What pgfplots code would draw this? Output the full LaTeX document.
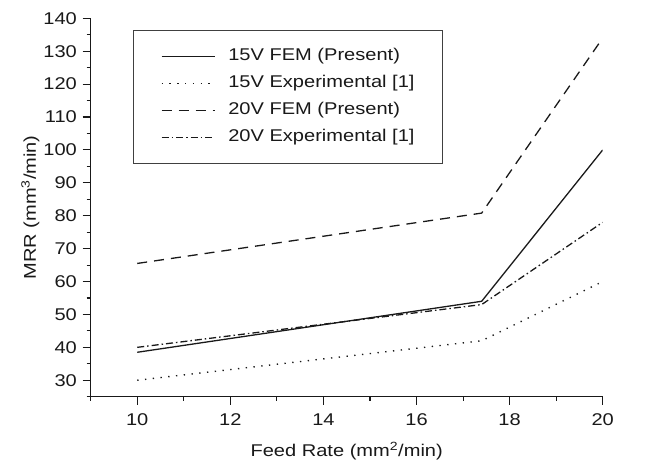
\documentclass[border=0pt]{standalone}
\usepackage{fontspec}
\setmainfont{Liberation Sans}[FakeStretch=1.18]
\usepackage{pgfplots}
\pgfplotsset{compat=1.18}
\newcommand{\chartfont}{\fontsize{17bp}{20bp}\selectfont}
\begin{document}
\chartfont
\begin{tikzpicture}
\useasboundingbox (-90.7bp,-68.3bp) rectangle (558.3bp,396.7bp);
\begin{axis}[
  at={(0,0)}, anchor=south west,
  scale only axis, width=512bp, height=378.4bp,
  xmin=9, xmax=20, ymin=25, ymax=140,
  axis x line*=bottom, axis y line*=left,
  axis line style={line width=1.1pt, black!90, -},
  xtick={10,12,...,20}, minor xtick={9,11,...,19},
  ytick={30,40,...,140}, minor ytick={25,35,...,135},
  tick align=outside, major tick length=8bp, minor tick length=4bp,
  every tick/.style={line width=1.1pt, black!90},
  /pgf/number format/assume math mode=true,
  ticklabel style={font=\chartfont, text=black!90},
  xticklabel style={yshift=-3.5bp},
  label style={font=\chartfont, text=black!90},
  xlabel={Feed Rate (mm\textsuperscript{2}/min)},
  ylabel={MRR (mm\textsuperscript{3}/min)},
  xlabel style={at={(axis description cs:0.5,-0.1435)}, anchor=center},
  ylabel style={at={(axis description cs:-0.118,0.5)}, anchor=center},
  legend style={at={(0.0826,0.969)}, anchor=north west, draw=black!75, line width=0.9pt,
    inner xsep=27.5bp, inner ysep=18bp, row sep=11bp, column sep=13bp,
    nodes={inner sep=0pt, text height=12bp, text depth=4bp, font=\chartfont, text=black!90}},
  legend cell align=left,
  legend image code/.code={\draw[#1] (0bp,0bp) -- (53bp,0bp);},
]
\addplot[black!90, line width=1.3pt] coordinates {(10,38.5) (17.4,54) (20,100)};
\addlegendentry{15V FEM (Present)}
\addplot[black!90, line width=1.4pt, dash pattern=on 1.3bp off 6.5bp] coordinates {(10,30) (17.4,42) (20,60)};
\addlegendentry{15V Experimental [1]}
\addplot[black!90, line width=1.3pt, dash pattern=on 10bp off 7bp] coordinates {(10,65.5) (17.4,80.8) (20,134)};
\addlegendentry{20V FEM (Present)}
\addplot[black!90, line width=1.3pt, dash pattern=on 7bp off 3bp on 1.5bp off 3bp] coordinates {(10,40) (17.4,53) (20,78)};
\addlegendentry{20V Experimental [1]}
\end{axis}
\end{tikzpicture}
\end{document}
